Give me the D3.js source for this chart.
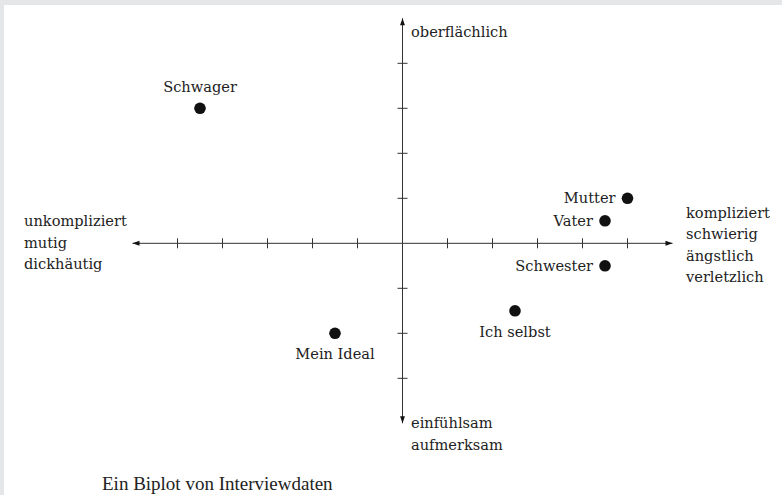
<!DOCTYPE html>
<html lang="de">
<head>
<meta charset="UTF-8">
<title>Biplot</title>
<script src="https://d3js.org/d3.v7.min.js"></script>
<style>
  body { margin: 0; background: #e5e6e8; }
  svg { display: block; }
  text { font-family: "DejaVu Serif", "Liberation Serif", serif; fill: #222; }
</style>
</head>
<body>
<script>
// persons and their positions in the biplot
var names  = ["Schwager", "Mutter", "Vater", "Schwester", "Ich selbst", "Mein Ideal"];
var xVals  = [-4.5, 5, 4.5, 4.5, 2.5, -1.5];
var yVals  = [3, 1, 0.5, -0.5, -1.5, -2];
var labelPos = ["top", "left", "left", "left", "bottom", "bottom"];

// pole labels of the two axes
var leftPole   = ["unkompliziert", "mutig", "dickhäutig"];
var rightPole  = ["kompliziert", "schwierig", "ängstlich", "verletzlich"];
var topPole    = ["oberflächlich"];
var bottomPole = ["einfühlsam", "aufmerksam"];

var xTicks = [-5, -4, -3, -2, -1, 1, 2, 3, 4, 5];
var yTicks = [-3, -2, -1, 1, 2, 3, 4];

var caption = "Ein Biplot von Interviewdaten";

var W = 782, H = 495;

var svg = d3.select("body").append("svg")
  .attr("width", W)
  .attr("height", H);

// white page
svg.append("rect")
  .attr("x", 4).attr("y", 5)
  .attr("width", W - 4).attr("height", H - 5)
  .attr("fill", "#fff");

// scales: one unit is 45px
var x = d3.scaleLinear().domain([-6, 6]).range([132.5, 672.5]);
var y = d3.scaleLinear().domain([-4, 5]).range([423.3, 18.3]);

var ink = "#333";

var defs = svg.append("defs");
defs.append("marker")
  .attr("id", "arr")
  .attr("viewBox", "0 0 10 10")
  .attr("refX", 10).attr("refY", 5)
  .attr("markerWidth", 8).attr("markerHeight", 7)
  .attr("markerUnits", "userSpaceOnUse")
  .attr("orient", "auto-start-reverse")
  .append("path")
  .attr("d", "M0,1.5L10,5L0,8.5Z")
  .attr("fill", "#111");

var g = svg.append("g");

// horizontal axis with arrows on both ends
g.append("line")
  .attr("x1", x(-6)).attr("x2", x(6))
  .attr("y1", y(0)).attr("y2", y(0))
  .attr("stroke", ink).attr("stroke-width", 1)
  .attr("marker-start", "url(#arr)")
  .attr("marker-end", "url(#arr)");

// vertical axis
g.append("line")
  .attr("x1", x(0)).attr("x2", x(0))
  .attr("y1", y(-4)).attr("y2", y(5))
  .attr("stroke", ink).attr("stroke-width", 1)
  .attr("marker-start", "url(#arr)")
  .attr("marker-end", "url(#arr)");

// ticks
g.selectAll(".xtick")
  .data(xTicks)
  .enter().append("line")
  .attr("class", "xtick")
  .attr("x1", d => x(d)).attr("x2", d => x(d))
  .attr("y1", y(0) - 5).attr("y2", y(0) + 5)
  .attr("stroke", ink).attr("stroke-width", 1);

g.selectAll(".ytick")
  .data(yTicks)
  .enter().append("line")
  .attr("class", "ytick")
  .attr("y1", d => y(d)).attr("y2", d => y(d))
  .attr("x1", x(0) - 5).attr("x2", x(0) + 5)
  .attr("stroke", ink).attr("stroke-width", 1);

// pole labels
function lines(arr, x0, y0, step, anchor) {
  g.selectAll(null)
    .data(arr)
    .enter().append("text")
    .attr("x", x0)
    .attr("y", (d, i) => y0 + i * step)
    .attr("text-anchor", anchor)
    .style("font-size", "14.6px")
    .text(d => d);
}
lines(leftPole, 24, 226, 21.5, "start");
lines(rightPole, 686, 218, 21.3, "start");
lines(topPole, 411, 37, 21, "start");
lines(bottomPole, 411, 428, 21.5, "start");

// points
var pts = names.map((n, i) => ({name: n, x: xVals[i], y: yVals[i], pos: labelPos[i]}));

var node = g.selectAll(".pt")
  .data(pts)
  .enter().append("g")
  .attr("class", "pt")
  .attr("transform", d => `translate(${x(d.x)},${y(d.y)})`);

node.append("circle")
  .attr("r", 5.8)
  .attr("fill", "#111");

node.append("text")
  .style("font-size", "14.6px")
  .attr("text-anchor", d => d.pos == "left" ? "end" : "middle")
  .attr("x", d => d.pos == "left" ? -12 : 0)
  .attr("y", d => d.pos == "top" ? -16 : d.pos == "bottom" ? 26 : 5)
  .text(d => d.name);

// caption
svg.append("text")
  .attr("x", 102)
  .attr("y", 490)
  .style("font-family", "'Liberation Serif', serif")
  .style("font-size", "19px")
  .style("fill", "#222")
  .text(caption);
</script>
</body>
</html>
